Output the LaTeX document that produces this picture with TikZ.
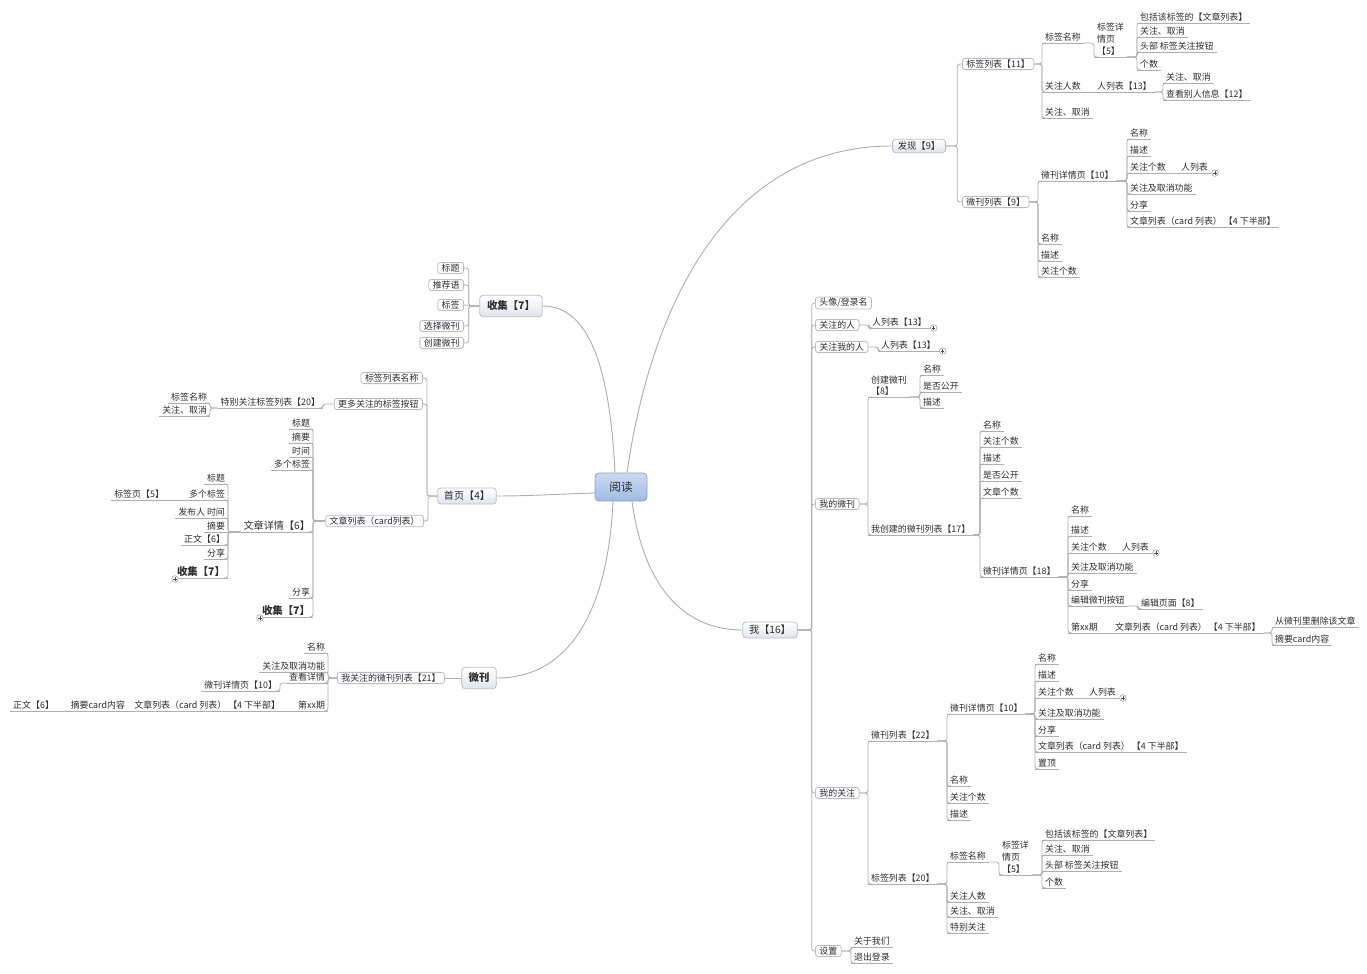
\documentclass[tikz,border=0pt]{standalone}
\usepackage{fontspec}
\setmainfont{Noto Sans CJK SC}
\usetikzlibrary{calc}

\definecolor{linegray}{RGB}{175,175,178}
\definecolor{boxline}{RGB}{188,188,198}
\definecolor{topicbot}{RGB}{226,227,236}
\definecolor{roottop}{RGB}{202,218,241}
\definecolor{rootbot}{RGB}{160,187,227}
\definecolor{rootline}{RGB}{138,162,202}
\definecolor{txt}{RGB}{45,45,45}

\tikzset{every picture/.style={line width=0.6pt}}
\tikzset{
  link/.style={draw=linegray, line width=0.6pt, rounded corners=2pt},
  mainlink/.style={draw=linegray, line width=0.7pt},
  ul/.style={draw=linegray, line width=0.6pt},
  root/.style={rounded corners=3pt, draw=rootline, top color=roottop, bottom color=rootbot, text=txt, font=\fontsize{8.7}{10}\selectfont, minimum width=39pt, minimum height=21pt},
  topic/.style={rounded corners=2.5pt, draw=boxline, top color=white, bottom color=topicbot, text=txt, inner xsep=4pt, inner ysep=1pt},
  sub/.style={rounded corners=2pt, draw=boxline, fill=white, text=txt, font=\fontsize{6.7}{8}\selectfont, inner xsep=3pt, inner ysep=1.1pt},
  leaf/.style={text=txt, font=\fontsize{6.7}{9}\selectfont, inner xsep=2pt, inner ysep=1.1pt, append after command={(\tikzlastnode.south west) edge[ul] (\tikzlastnode.south east)}},
  rleaf/.style={leaf, anchor=south west},
  lleaf/.style={leaf, anchor=south east},
  bigleaf/.style={font=\fontsize{7.8}{9}\selectfont\bfseries},
  midleaf/.style={font=\fontsize{7.6}{9}\selectfont},
  fold/.style={circle, draw=gray!80, fill=white, line width=0.4pt, inner sep=0pt, minimum size=5pt,
    path picture={\draw[line width=0.45pt, black!70] ([xshift=-1.3pt]path picture bounding box.center) -- ([xshift=1.3pt]path picture bounding box.center) ([yshift=-1.3pt]path picture bounding box.center) -- ([yshift=1.3pt]path picture bounding box.center);}},
}

\begin{document}
\begin{tikzpicture}[x=0.75pt,y=0.75pt,yscale=-1,xscale=1]
\useasboundingbox (0,0) rectangle (1367,974);

% Text Node
\node [root] (read) at (621,487) {阅读};
% Text Node
\node [topic, font=\fontsize{7}{8}\selectfont, minimum width=39pt, minimum height=10pt] (faxian) at (919,146) {发现【9】};
% Text Node
\node [topic, font=\fontsize{7.8}{9}\selectfont\bfseries, minimum width=47pt, minimum height=16pt] (shouji) at (511,306) {收集【7】};
% Text Node
\node [topic, font=\fontsize{7.6}{9}\selectfont, minimum width=44pt, minimum height=12pt] (shouye) at (467,496) {首页【4】};
% Text Node
\node [topic, font=\fontsize{7.8}{9}\selectfont\bfseries, minimum width=26pt, minimum height=16pt] (weikan) at (479,678) {微刊};
% Text Node
\node [topic, font=\fontsize{7.6}{9}\selectfont, minimum width=41pt, minimum height=12pt] (wo) at (770,630) {我【16】};

%Curve Lines
\draw [mainlink] ($(read.north)+(6,0)$) .. controls (652,300) and (730,146) .. (faxian.west);
\draw [mainlink] ($(read.north)+(-6,0)$) .. controls (610,370) and (590,306) .. (shouji.east);
\draw [mainlink] ($(read.west)+(0,6)$) .. controls (560,494) and (530,496) .. (shouye.east);
\draw [mainlink] ($(read.south)+(-8,0)$) .. controls (608,610) and (570,678) .. (weikan.east);
\draw [mainlink] ($(read.south)+(11,0)$) .. controls (645,595) and (690,630) .. (wo.west);

%% ---- 发现 ----
% Text Node
\node [sub, anchor=west] (fxTags) at (962,64) {标签列表【11】};
\node [sub, anchor=west] (fxList) at (962,202) {微刊列表【9】};
\node [rleaf] (fxTagName) at (1042,43) {标签名称};
\node [rleaf] (fxTagFans) at (1042,92) {关注人数};
\node [rleaf] (fxTagFollow) at (1042,118) {关注、取消};
\node [rleaf, align=left] (fxTagPage) at (1094,57) {标签详\\情页\\【5】};
\node [rleaf] (fxTP1) at (1137,23) {包括该标签的【文章列表】};
\node [rleaf] (fxTP2) at (1137,37) {关注、取消};
\node [rleaf] (fxTP3) at (1137,52) {头部 标签关注按钮};
\node [rleaf] (fxTP4) at (1137,70) {个数};
\node [rleaf] (fxTagPeople) at (1094,92) {人列表【13】};
\node [rleaf] (fxPp1) at (1163,83) {关注、取消};
\node [rleaf] (fxPp2) at (1163,100) {查看别人信息【12】};
\node [rleaf] (fxDetail) at (1038,181) {微刊详情页【10】};
\node [rleaf] (fxLName) at (1038,244) {名称};
\node [rleaf] (fxLDesc) at (1038,261) {描述};
\node [rleaf] (fxLCount) at (1038,277) {关注个数};
\node [rleaf] (fxD1) at (1127,139) {名称};
\node [rleaf] (fxD2) at (1127,156) {描述};
\node [rleaf] (fxD3) at (1127,173) {关注个数};
\node [rleaf] (fxD3p) at (1178,173) {人列表};
\node [rleaf] (fxD4) at (1127,194) {关注及取消功能};
\node [rleaf] (fxD5) at (1127,211) {分享};
\node [rleaf] (fxD6) at (1127,227) {文章列表（card 列表） 【4 下半部】};
\node [fold] (fxFold) at ($(fxD3p.south east)+(4,0)$) {};

%Straight Lines
\draw [link] (faxian.east) -| ([xshift=-3.5pt]fxTags.west) -- (fxTags.west);
\draw [link] (faxian.east) -| ([xshift=-3.5pt]fxList.west) -- (fxList.west);
\draw [link] (fxTags.east) -| (fxTagName.south west) -- ++(4,0);
\draw [link] (fxTags.east) -| (fxTagFans.south west) -- ++(4,0);
\draw [link] (fxTags.east) -| (fxTagFollow.south west) -- ++(4,0);
\draw [link] (fxTagName.south east) -| (fxTagPage.south west) -- ++(4,0);
\draw [link] (fxTagPage.south east) -| (fxTP1.south west) -- ++(4,0);
\draw [link] (fxTagPage.south east) -| (fxTP2.south west) -- ++(4,0);
\draw [link] (fxTagPage.south east) -| (fxTP3.south west) -- ++(4,0);
\draw [link] (fxTagPage.south east) -| (fxTP4.south west) -- ++(4,0);
\draw [link] (fxTagFans.south east) -- (fxTagPeople.south west);
\draw [link] (fxTagPeople.south east) -| (fxPp1.south west) -- ++(4,0);
\draw [link] (fxTagPeople.south east) -| (fxPp2.south west) -- ++(4,0);
\draw [link] (fxList.east) -| (fxDetail.south west) -- ++(4,0);
\draw [link] (fxList.east) -| (fxLName.south west) -- ++(4,0);
\draw [link] (fxList.east) -| (fxLDesc.south west) -- ++(4,0);
\draw [link] (fxList.east) -| (fxLCount.south west) -- ++(4,0);
\draw [link] (fxDetail.south east) -| (fxD1.south west) -- ++(4,0);
\draw [link] (fxDetail.south east) -| (fxD2.south west) -- ++(4,0);
\draw [link] (fxDetail.south east) -| (fxD3.south west) -- ++(4,0);
\draw [link] (fxDetail.south east) -| (fxD4.south west) -- ++(4,0);
\draw [link] (fxDetail.south east) -| (fxD5.south west) -- ++(4,0);
\draw [link] (fxDetail.south east) -| (fxD6.south west) -- ++(4,0);
\draw [link] (fxD3.south east) -- (fxD3p.south west);

%% ---- 收集 ----
% Text Node
\node [sub, anchor=east] (sjTitle) at (464,268) {标题};
\node [sub, anchor=east] (sjIntro) at (464,285) {推荐语};
\node [sub, anchor=east] (sjTag) at (464,305) {标签};
\node [sub, anchor=east] (sjChoose) at (464,326) {选择微刊};
\node [sub, anchor=east] (sjCreate) at (464,343) {创建微刊};

%Straight Lines
\draw [link] (shouji.west) -| ([xshift=3.5pt]sjTitle.east) -- (sjTitle.east);
\draw [link] (shouji.west) -| ([xshift=3.5pt]sjIntro.east) -- (sjIntro.east);
\draw [link] (shouji.west) -- (sjTag.east);
\draw [link] (shouji.west) -| ([xshift=3.5pt]sjChoose.east) -- (sjChoose.east);
\draw [link] (shouji.west) -| ([xshift=3.5pt]sjCreate.east) -- (sjCreate.east);

%% ---- 首页 ----
% Text Node
\node [sub, anchor=east] (syTagName) at (423,378) {标签列表名称};
\node [sub, anchor=east] (syMore) at (423,404) {更多关注的标签按钮};
\node [sub, anchor=east] (syCards) at (424,521) {文章列表（card列表）};
\node [lleaf] (sySpecial) at (323,408) {特别关注标签列表【20】};
\node [lleaf] (sySpName) at (210,403) {标签名称};
\node [lleaf] (sySpFollow) at (210,416) {关注、取消};
\node [lleaf] (syC1) at (313,429) {标题};
\node [lleaf] (syC2) at (313,443) {摘要};
\node [lleaf] (syC3) at (313,457) {时间};
\node [lleaf] (syC4) at (313,470) {多个标签};
\node [lleaf, midleaf] (syDetail) at (313,532) {文章详情【6】};
\node [lleaf] (syC5) at (313,598) {分享};
\node [lleaf, bigleaf] (syCollect) at (313,617) {收集【7】};
\node [lleaf] (syD1) at (228,484) {标题};
\node [lleaf] (syD2) at (228,500) {多个标签};
\node [lleaf] (syD2p) at (167,500) {标签页【5】};
\node [lleaf] (syD3) at (228,518) {发布人 时间};
\node [lleaf] (syD4) at (228,532) {摘要};
\node [lleaf] (syD5) at (228,545) {正文【6】};
\node [lleaf] (syD6) at (228,559) {分享};
\node [lleaf, bigleaf] (syD7) at (228,578) {收集【7】};
\node [fold] (syFold1) at ($(syCollect.south west)+(1,1)$) {};
\node [fold] (syFold2) at ($(syD7.south west)+(1,1)$) {};

%Straight Lines
\draw [link] (shouye.west) -| ([xshift=3pt]syTagName.east) -- (syTagName.east);
\draw [link] (shouye.west) -| ([xshift=3pt]syMore.east) -- (syMore.east);
\draw [link] (shouye.west) -| ([xshift=3pt]syCards.east) -- (syCards.east);
\draw [link] (syMore.west) -| (sySpecial.south east) -- ++(-4,0);
\draw [link] (sySpecial.south west) -| (sySpName.south east) -- ++(-4,0);
\draw [link] (sySpecial.south west) -| (sySpFollow.south east) -- ++(-4,0);
\draw [link] (syCards.west) -| (syC1.south east) -- ++(-4,0);
\draw [link] (syCards.west) -| (syC2.south east) -- ++(-4,0);
\draw [link] (syCards.west) -| (syC3.south east) -- ++(-4,0);
\draw [link] (syCards.west) -| (syC4.south east) -- ++(-4,0);
\draw [link] (syCards.west) -| (syDetail.south east) -- ++(-4,0);
\draw [link] (syCards.west) -| (syC5.south east) -- ++(-4,0);
\draw [link] (syCards.west) -| (syCollect.south east) -- ++(-4,0);
\draw [link] (syDetail.south west) -| (syD1.south east) -- ++(-4,0);
\draw [link] (syDetail.south west) -| (syD2.south east) -- ++(-4,0);
\draw [link] (syDetail.south west) -| (syD3.south east) -- ++(-4,0);
\draw [link] (syDetail.south west) -- (syD4.south east);
\draw [link] (syDetail.south west) -| (syD5.south east) -- ++(-4,0);
\draw [link] (syDetail.south west) -| (syD6.south east) -- ++(-4,0);
\draw [link] (syDetail.south west) -| (syD7.south east) -- ++(-4,0);
\draw [link] (syD2.south west) -- (syD2p.south east);

%% ---- 微刊 ----
% Text Node
\node [sub, anchor=east] (wkMine) at (445,678) {我关注的微刊列表【21】};
\node [lleaf] (wkName) at (328,653) {名称};
\node [lleaf] (wkFollow) at (328,672) {关注及取消功能};
\node [lleaf] (wkView) at (328,683) {查看详情};
\node [lleaf] (wkDetail) at (280,691) {微刊详情页【10】};
\node [lleaf] (wkIssue) at (328,711) {第xx期};
\node [lleaf] (wkCards) at (283,711) {文章列表（card 列表） 【4 下半部】};
\node [lleaf] (wkAbs) at (128,711) {摘要card内容};
\node [lleaf] (wkBody) at (57,711) {正文【6】};

%Straight Lines
\draw [link] (weikan.west) -- (wkMine.east);
\draw [link] (wkMine.west) -| (wkName.south east) -- ++(-4,0);
\draw [link] (wkMine.west) -| (wkFollow.south east) -- ++(-4,0);
\draw [link] (wkMine.west) -| (wkView.south east) -- ++(-4,0);
\draw [link] (wkMine.west) -| (wkIssue.south east) -- ++(-4,0);
\draw [link] (wkView.south west) -| (wkDetail.south east) -- ++(-4,0);
\draw [link] (wkIssue.south west) -- (wkCards.south east);
\draw [link] (wkCards.south west) -- (wkAbs.south east);
\draw [link] (wkAbs.south west) -- (wkBody.south east);

%% ---- 我 ----
% Text Node
\node [sub, anchor=west] (woAvatar) at (815,303) {头像/登录名};
\node [sub, anchor=west] (woFollowing) at (815,325) {关注的人};
\node [sub, anchor=west] (woFans) at (815,347) {关注我的人};
\node [sub, anchor=west] (woMine) at (815,504) {我的微刊};
\node [sub, anchor=west] (woWatch) at (815,793) {我的关注};
\node [sub, anchor=west] (woSet) at (815,951) {设置};
\node [rleaf] (woFollowingList) at (869,328) {人列表【13】};
\node [rleaf] (woFansList) at (878,351) {人列表【13】};
\node [fold] (woFold1) at ($(woFollowingList.south east)+(4,0)$) {};
\node [fold] (woFold2) at ($(woFansList.south east)+(4,0)$) {};

% Text Node
\node [rleaf, align=left, font=\fontsize{6.7}{8.3}\selectfont] (woCreate) at (868,397) {创建微刊\\【8】};
\node [rleaf] (woC1) at (920,375) {名称};
\node [rleaf] (woC2) at (920,392) {是否公开};
\node [rleaf] (woC3) at (920,408) {描述};
\node [rleaf] (woMyList) at (868,535) {我创建的微刊列表【17】};
\node [rleaf] (woL1) at (980,431) {名称};
\node [rleaf] (woL2) at (980,447) {关注个数};
\node [rleaf] (woL3) at (980,464) {描述};
\node [rleaf] (woL4) at (980,481) {是否公开};
\node [rleaf] (woL5) at (980,498) {文章个数};
\node [rleaf] (woDetail) at (980,577) {微刊详情页【18】};
\node [rleaf] (woD1) at (1068,516) {名称};
\node [rleaf] (woD2) at (1068,536) {描述};
\node [rleaf] (woD3) at (1068,553) {关注个数};
\node [rleaf] (woD3p) at (1119,553) {人列表};
\node [rleaf] (woD4) at (1068,573) {关注及取消功能};
\node [rleaf] (woD5) at (1068,590) {分享};
\node [rleaf] (woD6) at (1068,606) {编辑微刊按钮};
\node [rleaf] (woD6p) at (1138,609) {编辑页面【8】};
\node [rleaf] (woD7) at (1068,633) {第xx期};
\node [rleaf] (woD7p) at (1112,633) {文章列表（card 列表） 【4 下半部】};
\node [rleaf] (woDel) at (1272,627) {从微刊里删除该文章};
\node [rleaf] (woAbs) at (1272,645) {摘要card内容};
\node [fold] (woFold3) at ($(woD3p.south east)+(4,0)$) {};

% Text Node
\node [rleaf] (woWList) at (868,741) {微刊列表【22】};
\node [rleaf] (woWDetail) at (947,714) {微刊详情页【10】};
\node [rleaf] (woW1) at (947,786) {名称};
\node [rleaf] (woW2) at (947,803) {关注个数};
\node [rleaf] (woW3) at (947,820) {描述};
\node [rleaf] (woWD1) at (1035,664) {名称};
\node [rleaf] (woWD2) at (1035,681) {描述};
\node [rleaf] (woWD3) at (1035,698) {关注个数};
\node [rleaf] (woWD3p) at (1086,698) {人列表};
\node [rleaf] (woWD4) at (1035,719) {关注及取消功能};
\node [rleaf] (woWD5) at (1035,736) {分享};
\node [rleaf] (woWD6) at (1035,752) {文章列表（card 列表） 【4 下半部】};
\node [rleaf] (woWD7) at (1035,769) {置顶};
\node [fold] (woFold4) at ($(woWD3p.south east)+(4,0)$) {};
\node [rleaf] (woWTags) at (868,884) {标签列表【20】};
\node [rleaf] (woT1) at (947,862) {标签名称};
\node [rleaf, align=left] (woTPage) at (999,875) {标签详\\情页\\【5】};
\node [rleaf] (woTP1) at (1042,840) {包括该标签的【文章列表】};
\node [rleaf] (woTP2) at (1042,855) {关注、取消};
\node [rleaf] (woTP3) at (1042,871) {头部 标签关注按钮};
\node [rleaf] (woTP4) at (1042,888) {个数};
\node [rleaf] (woT2) at (947,902) {关注人数};
\node [rleaf] (woT3) at (947,917) {关注、取消};
\node [rleaf] (woT4) at (947,933) {特别关注};
\node [rleaf] (woS1) at (851,947) {关于我们};
\node [rleaf] (woS2) at (851,963) {退出登录};

%Straight Lines
\draw [link] (wo.east) -| ([xshift=-2.5pt]woAvatar.west) -- (woAvatar.west);
\draw [link] (wo.east) -| ([xshift=-2.5pt]woFollowing.west) -- (woFollowing.west);
\draw [link] (wo.east) -| ([xshift=-2.5pt]woFans.west) -- (woFans.west);
\draw [link] (wo.east) -| ([xshift=-2.5pt]woMine.west) -- (woMine.west);
\draw [link] (wo.east) -| ([xshift=-2.5pt]woWatch.west) -- (woWatch.west);
\draw [link] (wo.east) -| ([xshift=-2.5pt]woSet.west) -- (woSet.west);
\draw [link] (woFollowing.east) -| (woFollowingList.south west) -- ++(4,0);
\draw [link] (woFans.east) -| (woFansList.south west) -- ++(4,0);
\draw [link] (woMine.east) -| (woCreate.south west) -- ++(4,0);
\draw [link] (woMine.east) -| (woMyList.south west) -- ++(4,0);
\draw [link] (woCreate.south east) -| (woC1.south west) -- ++(4,0);
\draw [link] (woCreate.south east) -| (woC2.south west) -- ++(4,0);
\draw [link] (woCreate.south east) -| (woC3.south west) -- ++(4,0);
\draw [link] (woMyList.south east) -| (woL1.south west) -- ++(4,0);
\draw [link] (woMyList.south east) -| (woL2.south west) -- ++(4,0);
\draw [link] (woMyList.south east) -| (woL3.south west) -- ++(4,0);
\draw [link] (woMyList.south east) -| (woL4.south west) -- ++(4,0);
\draw [link] (woMyList.south east) -| (woL5.south west) -- ++(4,0);
\draw [link] (woMyList.south east) -| (woDetail.south west) -- ++(4,0);
\draw [link] (woDetail.south east) -| (woD1.south west) -- ++(4,0);
\draw [link] (woDetail.south east) -| (woD2.south west) -- ++(4,0);
\draw [link] (woDetail.south east) -| (woD3.south west) -- ++(4,0);
\draw [link] (woDetail.south east) -| (woD4.south west) -- ++(4,0);
\draw [link] (woDetail.south east) -| (woD5.south west) -- ++(4,0);
\draw [link] (woDetail.south east) -| (woD6.south west) -- ++(4,0);
\draw [link] (woDetail.south east) -| (woD7.south west) -- ++(4,0);
\draw [link] (woD3.south east) -- (woD3p.south west);
\draw [link] (woD6.south east) -| (woD6p.south west) -- ++(4,0);
\draw [link] (woD7.south east) -- (woD7p.south west);
\draw [link] (woD7p.south east) -| (woDel.south west) -- ++(4,0);
\draw [link] (woD7p.south east) -| (woAbs.south west) -- ++(4,0);
\draw [link] (woWatch.east) -| (woWList.south west) -- ++(4,0);
\draw [link] (woWatch.east) -| (woWTags.south west) -- ++(4,0);
\draw [link] (woWList.south east) -| (woWDetail.south west) -- ++(4,0);
\draw [link] (woWList.south east) -| (woW1.south west) -- ++(4,0);
\draw [link] (woWList.south east) -| (woW2.south west) -- ++(4,0);
\draw [link] (woWList.south east) -| (woW3.south west) -- ++(4,0);
\draw [link] (woWDetail.south east) -| (woWD1.south west) -- ++(4,0);
\draw [link] (woWDetail.south east) -| (woWD2.south west) -- ++(4,0);
\draw [link] (woWDetail.south east) -| (woWD3.south west) -- ++(4,0);
\draw [link] (woWDetail.south east) -| (woWD4.south west) -- ++(4,0);
\draw [link] (woWDetail.south east) -| (woWD5.south west) -- ++(4,0);
\draw [link] (woWDetail.south east) -| (woWD6.south west) -- ++(4,0);
\draw [link] (woWDetail.south east) -| (woWD7.south west) -- ++(4,0);
\draw [link] (woWD3.south east) -- (woWD3p.south west);
\draw [link] (woWTags.south east) -| (woT1.south west) -- ++(4,0);
\draw [link] (woWTags.south east) -| (woT2.south west) -- ++(4,0);
\draw [link] (woWTags.south east) -| (woT3.south west) -- ++(4,0);
\draw [link] (woWTags.south east) -| (woT4.south west) -- ++(4,0);
\draw [link] (woT1.south east) -| (woTPage.south west) -- ++(4,0);
\draw [link] (woTPage.south east) -| (woTP1.south west) -- ++(4,0);
\draw [link] (woTPage.south east) -| (woTP2.south west) -- ++(4,0);
\draw [link] (woTPage.south east) -| (woTP3.south west) -- ++(4,0);
\draw [link] (woTPage.south east) -| (woTP4.south west) -- ++(4,0);
\draw [link] (woSet.east) -| (woS1.south west) -- ++(4,0);
\draw [link] (woSet.east) -| (woS2.south west) -- ++(4,0);

\end{tikzpicture}
\end{document}
